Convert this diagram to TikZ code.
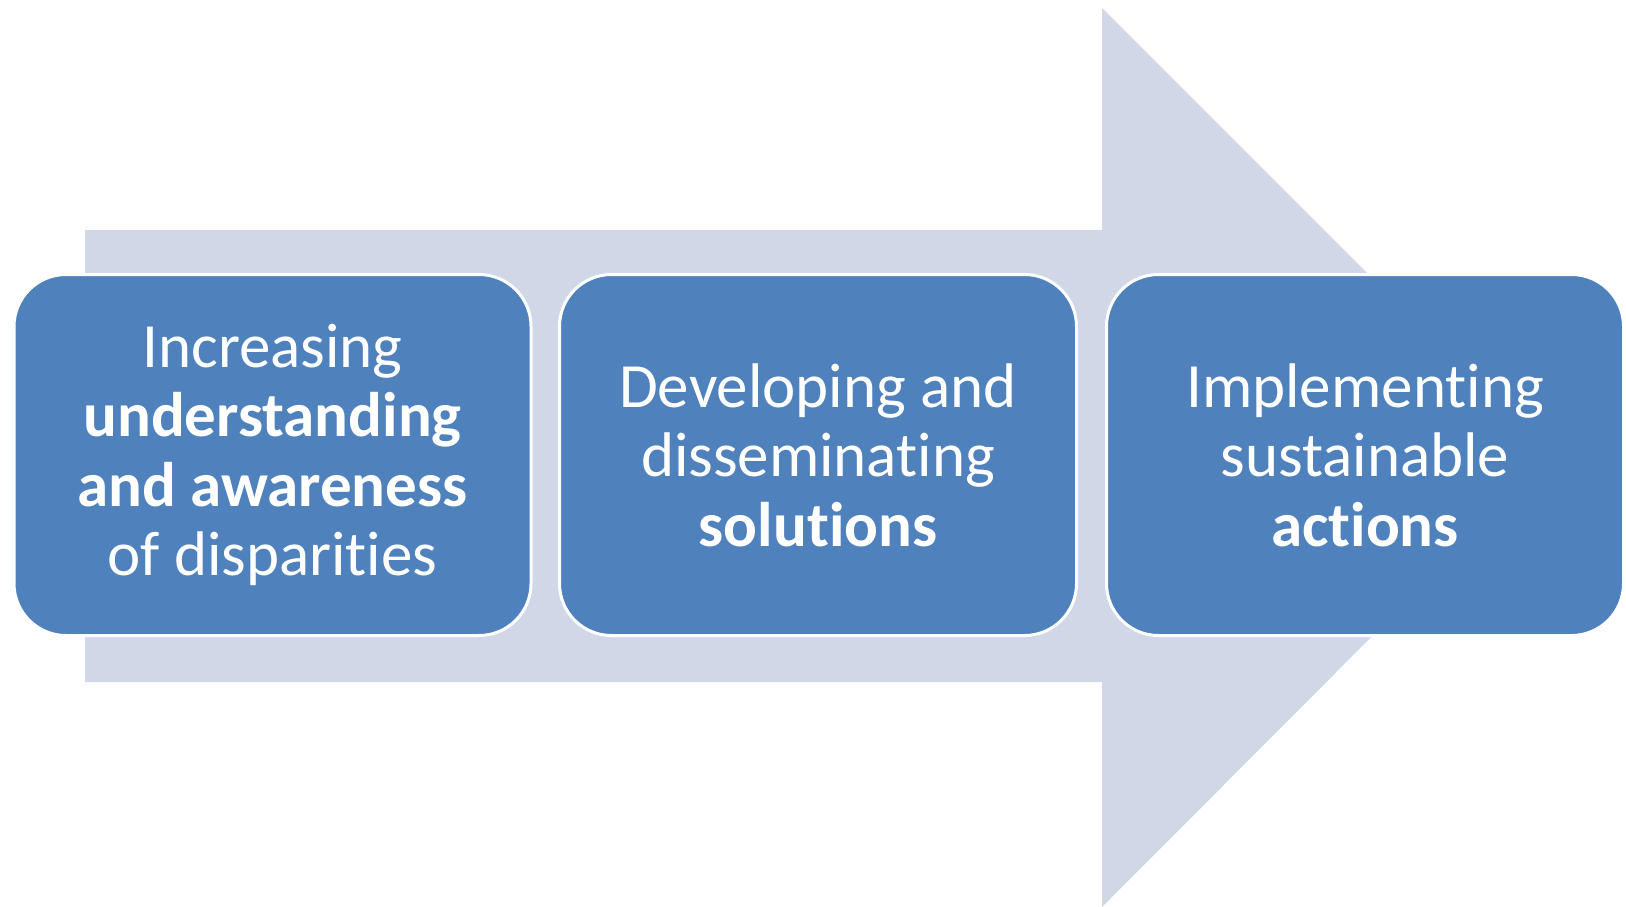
\documentclass[tikz,border=0pt]{standalone}
\usepackage{fontspec}
\setmainfont[Ligatures=NoCommon]{Carlito}
\definecolor{boxblue}{HTML}{4F81BD}
\definecolor{arrowgray}{HTML}{D0D8E8}
\begin{document}
\begin{tikzpicture}[x=1pt,y=-1pt,
  stepbox/.style={draw=white, line width=3pt, fill=boxblue, rounded corners=52pt,
    minimum width=517pt, minimum height=361pt, inner sep=0pt, text=white,
    align=center, font=\fontsize{63}{69.5}\selectfont}]
\useasboundingbox (0,0) rectangle (1626,907);
\fill[white] (0,0) rectangle (1626,907);
% big arrow
\fill[arrowgray] (85,230) -- (1102,230) -- (1102,8) -- (1551,457) -- (1102,907) -- (1102,682) -- (85,682) -- cycle;
\node[stepbox] (a) at (272.5,455) {Increasing\\\textbf{understanding}\\\textbf{and awareness}\\of disparities};
\node[stepbox] (b) at (818,455) {Developing and\\disseminating\\\textbf{solutions}};
\node[stepbox] (c) at (1365,455) {Implementing\\sustainable\\\textbf{actions}};
\end{tikzpicture}
\end{document}
